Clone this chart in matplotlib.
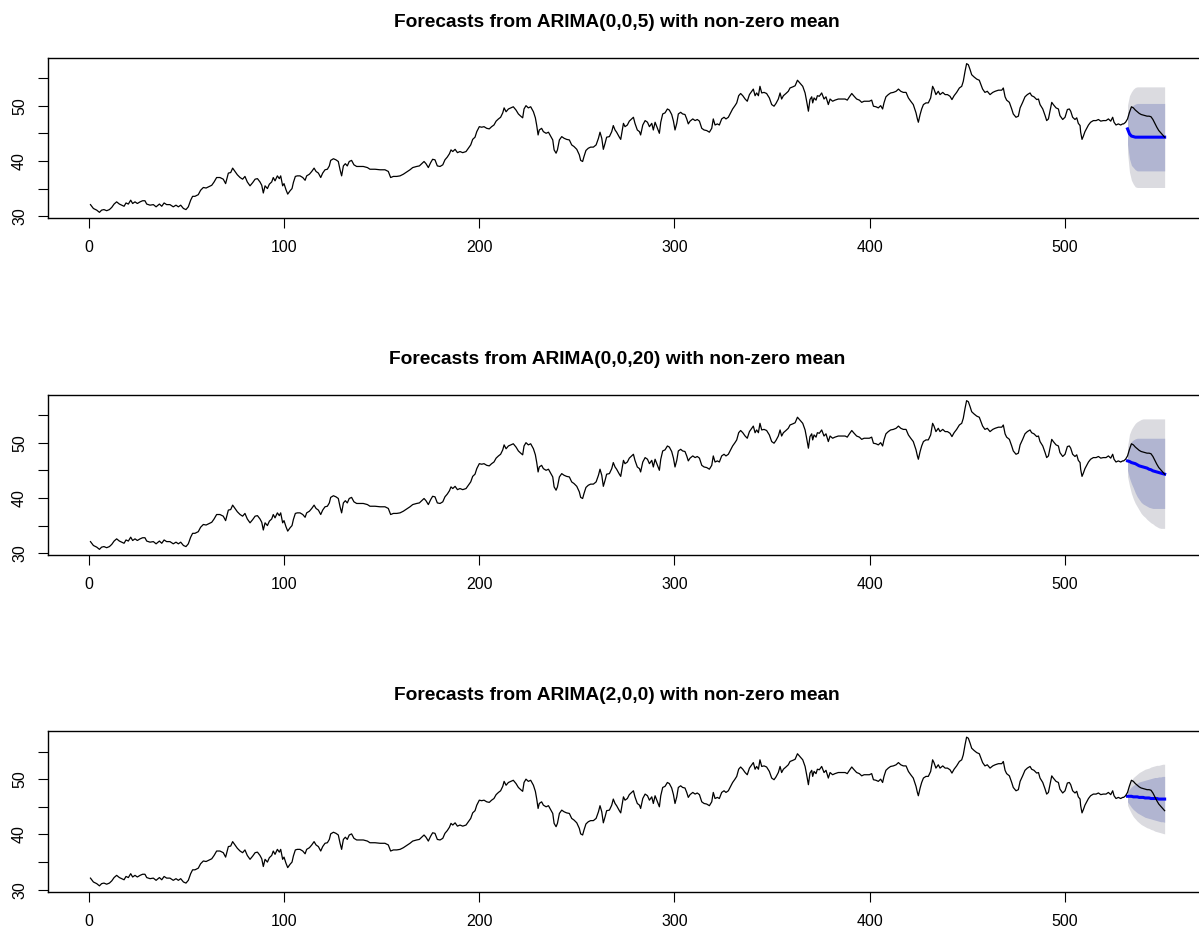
import numpy as np
import matplotlib
matplotlib.use("Agg")
import matplotlib.pyplot as plt

plt.rcParams['font.family'] = ['Liberation Sans', 'DejaVu Sans']

# observed prices as (day, value) pairs, split by stretch of the series
obs_1_88 = [
    (1.0, 32.1), (2.5, 31.4), (4.2, 31.1), (5.6, 30.7), (6.7, 31.1), (7.9, 31.2), (9.3, 31.0),
    (10.7, 31.2), (11.9, 31.6), (13.1, 32.2), (14.4, 32.6), (15.8, 32.2), (17.0, 32.0), (18.2, 31.8),
    (19.2, 32.4), (20.4, 32.2), (21.6, 32.9), (22.6, 32.3), (23.8, 32.6), (25.0, 32.3), (26.4, 32.6),
    (27.7, 32.8), (28.9, 32.8), (29.8, 32.2), (31.5, 32.0), (33.2, 32.1), (34.6, 31.7), (36.3, 32.2),
    (37.5, 31.8), (38.7, 32.4), (40.0, 32.1), (41.7, 32.1), (43.4, 31.7), (44.8, 32.0), (46.0, 31.7),
    (47.2, 32.0), (48.6, 31.4), (49.9, 31.2), (51.1, 31.7), (52.3, 32.9), (53.3, 33.6), (54.5, 33.6),
    (56.2, 33.9), (57.4, 34.7), (58.8, 35.2), (60.2, 35.1), (61.4, 35.3), (63.1, 35.6), (64.3, 36.2),
    (65.6, 37.0), (67.3, 37.0), (69.0, 36.7), (70.2, 35.9), (71.6, 37.8), (72.8, 37.9), (73.8, 38.7),
    (75.0, 38.1), (76.2, 37.5), (77.6, 37.0), (78.9, 36.7), (80.1, 37.2), (81.3, 36.2), (82.7, 35.5),
    (84.1, 36.1), (85.3, 36.7), (86.5, 36.8), (87.8, 36.2),
]
obs_88_180 = [
    (88.7, 35.6), (89.5, 34.2), (90.4, 35.5), (91.6, 35.0), (92.6, 35.8), (93.8, 36.2), (94.6, 37.0),
    (95.5, 36.4), (96.7, 37.3), (97.7, 36.8), (98.4, 37.3), (99.4, 35.5), (100.1, 35.9), (101.1, 34.8),
    (102.0, 34.0), (103.2, 34.6), (104.2, 35.0), (104.9, 36.1), (105.9, 37.2), (106.9, 37.3),
    (108.3, 37.3), (109.7, 37.0), (110.9, 36.5), (111.7, 37.3), (113.1, 37.6), (114.3, 38.1),
    (115.5, 38.7), (116.5, 38.1), (117.7, 37.8), (118.9, 37.0), (119.9, 37.8), (121.1, 38.4),
    (122.3, 38.5), (123.3, 39.1), (124.0, 40.1), (125.4, 40.4), (126.7, 40.2), (127.9, 39.9),
    (128.8, 38.4), (129.6, 37.3), (130.5, 39.1), (131.5, 39.5), (132.5, 39.1), (133.5, 39.9),
    (134.7, 40.1), (135.9, 39.3), (137.3, 39.0), (139.0, 39.0), (140.7, 39.0), (142.8, 38.8),
    (144.1, 38.5), (146.7, 38.5), (149.3, 38.4), (151.8, 38.4), (153.5, 38.1), (154.7, 37.0),
    (156.1, 37.2), (157.8, 37.2), (159.5, 37.3), (161.2, 37.6), (162.9, 38.0), (164.6, 38.4),
    (166.0, 38.8), (168.0, 39.0), (169.4, 39.1), (170.6, 39.5), (171.8, 39.9), (172.8, 39.5),
    (174.0, 38.8), (175.2, 39.7), (176.2, 40.3), (177.4, 40.2), (178.6, 39.1), (180.0, 39.0),
]
obs_181_273 = [
    (181.4, 39.3), (182.5, 40.2), (183.7, 40.7), (184.8, 41.3), (185.6, 42.0), (186.5, 41.7),
    (187.7, 42.1), (188.9, 41.5), (190.2, 41.7), (191.6, 41.5), (193.3, 41.7), (194.5, 42.3),
    (195.7, 42.9), (196.7, 43.9), (197.9, 44.3), (198.8, 45.3), (200.1, 46.2), (201.3, 46.1),
    (202.5, 46.2), (203.9, 45.9), (205.2, 45.8), (206.4, 46.2), (207.6, 46.5), (208.7, 47.2),
    (209.9, 47.6), (211.0, 47.9), (212.1, 48.7), (212.8, 49.6), (213.8, 48.9), (215.0, 49.4),
    (216.2, 49.6), (217.5, 49.8), (218.9, 49.2), (220.1, 48.5), (221.3, 48.1), (222.3, 47.8),
    (223.0, 49.4), (224.0, 50.0), (225.2, 49.6), (226.4, 49.8), (227.8, 48.9), (228.8, 47.8),
    (229.5, 46.4), (230.2, 44.7), (230.8, 45.6), (232.0, 45.9), (232.9, 45.3), (234.3, 45.0),
    (235.5, 45.2), (236.6, 44.5), (237.7, 43.8), (238.4, 42.0), (239.4, 41.4), (240.1, 42.0),
    (241.1, 43.8), (242.3, 44.4), (243.5, 44.1), (244.8, 43.9), (246.2, 43.8), (247.4, 42.9),
    (248.6, 42.6), (250.0, 42.1), (251.3, 41.1), (252.0, 40.1), (253.0, 39.9), (253.7, 40.8),
    (254.7, 41.9), (255.9, 42.3), (257.1, 42.5), (258.5, 42.5), (259.9, 42.9), (261.1, 44.1),
    (261.9, 45.2), (262.8, 44.1), (263.6, 42.1), (264.5, 43.2), (265.3, 44.3), (266.7, 44.4),
    (267.9, 45.3), (268.7, 46.4), (269.6, 45.6), (270.4, 45.2), (271.8, 44.3), (272.5, 43.9),
]
obs_274_364 = [
    (273.9, 46.8), (274.7, 46.2), (275.9, 46.5), (276.9, 47.2), (278.1, 47.6), (279.0, 47.9),
    (279.8, 46.8), (281.0, 45.6), (282.1, 45.3), (282.7, 44.7), (283.8, 46.5), (285.0, 47.3),
    (286.2, 47.0), (287.2, 46.2), (288.4, 46.8), (289.2, 45.6), (290.1, 47.0), (291.3, 45.9),
    (292.3, 45.0), (293.0, 47.0), (294.0, 48.5), (295.2, 48.7), (296.4, 49.4), (297.4, 49.2),
    (298.6, 48.4), (299.5, 47.2), (300.3, 45.6), (301.2, 46.8), (302.0, 48.5), (303.2, 48.8),
    (304.2, 48.5), (305.4, 48.4), (306.3, 47.6), (307.1, 46.7), (308.0, 47.2), (309.4, 47.6),
    (310.6, 47.3), (311.7, 47.5), (312.8, 47.2), (314.0, 45.9), (315.2, 45.6), (316.5, 45.5),
    (317.9, 45.2), (319.1, 45.9), (319.9, 47.6), (320.8, 46.5), (322.0, 46.7), (323.0, 46.5),
    (324.2, 47.6), (325.4, 47.9), (326.4, 47.6), (327.6, 47.9), (328.8, 48.7), (329.8, 49.4),
    (331.0, 50.0), (331.9, 50.5), (332.9, 51.8), (333.9, 52.2), (335.0, 51.8), (336.2, 51.2),
    (337.3, 50.8), (338.4, 52.0), (339.6, 52.6), (340.4, 53.0), (341.3, 51.8), (342.1, 52.3),
    (343.0, 51.8), (343.8, 53.5), (344.7, 52.3), (345.9, 52.4), (347.2, 52.2), (348.6, 51.4),
    (349.8, 50.2), (351.0, 49.9), (352.0, 50.4), (353.2, 51.2), (354.1, 52.3), (354.9, 51.2),
    (355.8, 51.8), (357.1, 52.2), (358.3, 52.6), (359.2, 53.2), (360.6, 53.4), (361.8, 53.6),
    (363.0, 54.6), (364.0, 54.2),
]
obs_365_456 = [
    (365.7, 53.5), (366.9, 52.3), (367.7, 50.8), (368.6, 49.0), (369.4, 51.1), (370.3, 51.6),
    (370.8, 50.5), (371.5, 51.4), (372.5, 51.0), (373.2, 51.8), (374.2, 51.7), (375.4, 52.3),
    (376.6, 51.2), (377.6, 51.6), (378.8, 50.2), (379.7, 51.2), (381.0, 50.8), (382.2, 51.0),
    (383.9, 51.2), (385.6, 51.2), (387.4, 51.2), (388.5, 51.0), (389.6, 51.6), (390.8, 52.2),
    (392.0, 51.7), (393.3, 51.2), (394.7, 51.0), (395.9, 50.6), (397.1, 50.8), (398.4, 50.8),
    (399.8, 50.8), (401.0, 51.0), (401.9, 49.9), (403.2, 49.8), (404.4, 49.6), (405.6, 50.0),
    (406.6, 49.4), (407.3, 50.5), (408.3, 51.6), (409.5, 52.0), (410.7, 52.3), (412.1, 52.4),
    (413.5, 52.6), (414.7, 53.0), (415.9, 52.6), (417.2, 52.4), (418.6, 52.4), (419.8, 51.4),
    (421.0, 50.8), (422.3, 50.2), (423.7, 48.7), (424.4, 47.6), (424.9, 47.0), (425.8, 48.4),
    (426.6, 49.4), (427.5, 50.2), (428.8, 50.5), (430.0, 50.5), (431.2, 51.4), (432.2, 53.5),
    (432.9, 53.0), (433.9, 52.0), (435.1, 52.6), (436.0, 52.0), (437.4, 52.4), (438.6, 52.0),
    (439.8, 52.0), (441.1, 51.7), (442.1, 51.1), (443.2, 51.8), (444.5, 52.4), (445.9, 53.2),
    (447.1, 53.5), (447.9, 54.4), (448.8, 56.2), (449.6, 57.6), (450.5, 57.4), (451.4, 56.5),
    (452.2, 55.6), (453.4, 55.2), (454.8, 54.8), (456.1, 54.6),
]
obs_457_531 = [
    (457.8, 53.0), (459.0, 52.4), (460.2, 52.6), (461.6, 52.0), (463.0, 52.4), (464.2, 52.6),
    (465.9, 52.8), (467.6, 52.8), (468.4, 53.2), (469.3, 51.6), (470.1, 51.0), (471.5, 50.6),
    (472.7, 49.4), (473.5, 48.5), (474.9, 47.9), (476.1, 48.1), (477.0, 49.6), (478.3, 50.6),
    (479.5, 51.6), (480.7, 52.0), (482.1, 52.3), (482.9, 51.8), (484.1, 51.6), (485.5, 51.1),
    (486.4, 51.2), (487.2, 50.2), (488.6, 49.4), (489.8, 48.2), (490.6, 47.3), (491.5, 47.6),
    (492.3, 49.0), (493.2, 50.6), (494.0, 50.2), (495.4, 49.6), (496.6, 49.4), (497.4, 48.2),
    (498.8, 47.5), (500.0, 47.9), (501.2, 49.3), (502.2, 49.4), (502.9, 49.0), (503.9, 47.9),
    (505.1, 47.5), (506.0, 47.8), (506.8, 46.8), (507.7, 46.4), (508.0, 45.2), (508.7, 43.9),
    (509.4, 44.5), (510.2, 45.3), (511.1, 45.9), (512.0, 46.5), (513.1, 47.0), (514.5, 47.3),
    (515.9, 47.3), (517.1, 47.5), (518.3, 47.2), (519.6, 47.3), (521.0, 47.3), (522.2, 47.6),
    (523.4, 47.2), (524.4, 47.9), (525.1, 47.0), (526.1, 46.5), (527.3, 46.7), (528.5, 46.5),
    (529.5, 46.7), (530.0, 46.7), (531.0, 47.0),
]

# hold-out days and the forecast horizon (20 steps)
fc_days = [532, 533, 534, 535, 536, 537, 538, 539, 540, 541,
           542, 543, 544, 545, 546, 547, 548, 549, 550, 551]
test_price = [47.6, 48.8, 49.8, 49.6, 49.2, 48.9, 48.6, 48.4, 48.3, 48.2,
              48.1, 48.1, 48.0, 47.5, 46.8, 46.1, 45.5, 45.1, 44.7, 44.3]

# ARIMA(0,0,5)
ma5_mean = [45.8, 44.9, 44.5, 44.4, 44.3, 44.3, 44.3, 44.3, 44.3, 44.3,
            44.3, 44.3, 44.3, 44.3, 44.3, 44.3, 44.3, 44.3, 44.3, 44.3]
ma5_lo80 = [43.0, 40.4, 39.2, 38.8, 38.4, 38.2, 38.2, 38.2, 38.2, 38.2,
            38.2, 38.2, 38.2, 38.2, 38.2, 38.2, 38.2, 38.2, 38.2, 38.2]
ma5_hi80 = [48.6, 49.4, 49.8, 50.1, 50.3, 50.4, 50.4, 50.4, 50.4, 50.4,
            50.4, 50.4, 50.4, 50.4, 50.4, 50.4, 50.4, 50.4, 50.4, 50.4]
ma5_lo95 = [41.5, 38.0, 36.5, 35.8, 35.3, 35.2, 35.2, 35.2, 35.2, 35.2,
            35.2, 35.2, 35.2, 35.2, 35.2, 35.2, 35.2, 35.2, 35.2, 35.2]
ma5_hi95 = [50.1, 51.8, 52.5, 53.0, 53.3, 53.4, 53.4, 53.4, 53.4, 53.4,
            53.4, 53.4, 53.4, 53.4, 53.4, 53.4, 53.4, 53.4, 53.4, 53.4]

# ARIMA(0,0,20)
ma20_mean = [46.7, 46.6, 46.4, 46.3, 46.2, 46.0, 45.8, 45.7, 45.6, 45.5,
             45.4, 45.2, 45.1, 44.9, 44.8, 44.7, 44.6, 44.5, 44.4, 44.3]
ma20_lo80 = [45.0, 43.6, 42.6, 41.8, 40.9, 40.2, 39.7, 39.2, 38.9, 38.7,
             38.5, 38.3, 38.2, 38.1, 38.1, 38.1, 38.1, 38.1, 38.1, 38.1]
ma20_hi80 = [48.4, 49.6, 50.2, 50.5, 50.7, 50.8, 50.8, 50.8, 50.8, 50.8,
             50.8, 50.8, 50.8, 50.8, 50.8, 50.8, 50.8, 50.8, 50.8, 50.8]
ma20_lo95 = [43.9, 42.2, 40.8, 39.8, 39.0, 38.4, 37.8, 37.2, 36.8, 36.5,
             36.1, 35.8, 35.5, 35.3, 35.0, 34.8, 34.6, 34.5, 34.5, 34.5]
ma20_hi95 = [49.3, 51.5, 52.4, 53.0, 53.5, 53.8, 54.0, 54.2, 54.3, 54.3,
             54.3, 54.3, 54.3, 54.3, 54.3, 54.3, 54.3, 54.3, 54.3, 54.3]

# ARIMA(2,0,0)
ar2_mean = [46.9, 46.9, 46.9, 46.8, 46.8, 46.8, 46.7, 46.7, 46.7, 46.6,
            46.6, 46.6, 46.5, 46.5, 46.5, 46.5, 46.4, 46.4, 46.4, 46.4]
ar2_lo80 = [45.9, 45.4, 44.9, 44.5, 44.2, 43.9, 43.7, 43.5, 43.3, 43.1,
            43.0, 42.9, 42.8, 42.7, 42.6, 42.5, 42.4, 42.3, 42.3, 42.2]
ar2_hi80 = [47.7, 48.2, 48.6, 48.9, 49.1, 49.3, 49.5, 49.6, 49.7, 49.8,
            49.9, 50.0, 50.1, 50.2, 50.3, 50.3, 50.4, 50.4, 50.5, 50.5]
ar2_lo95 = [45.3, 44.5, 43.8, 43.2, 42.8, 42.4, 42.1, 41.8, 41.6, 41.4,
            41.2, 41.1, 40.9, 40.8, 40.6, 40.5, 40.4, 40.3, 40.2, 40.1]
ar2_hi95 = [48.3, 49.1, 49.8, 50.3, 50.6, 50.9, 51.2, 51.4, 51.6, 51.8,
            51.9, 52.0, 52.2, 52.3, 52.4, 52.5, 52.5, 52.6, 52.7, 52.7]

titles = ["Forecasts from ARIMA(0,0,5) with non-zero mean",
          "Forecasts from ARIMA(0,0,20) with non-zero mean",
          "Forecasts from ARIMA(2,0,0) with non-zero mean"]

DARK = "#b1b5d1"
LIGHT = "#dbdbe0"


def main():
    train = obs_1_88 + obs_88_180 + obs_181_273 + obs_274_364 + obs_365_456 + obs_457_531
    tr_day = np.array([d for d, _ in train])
    tr_val = np.array([v for _, v in train])
    all_day = np.concatenate([tr_day, fc_days])
    all_val = np.concatenate([tr_val, test_price])

    models = [
        (ma5_mean, ma5_lo80, ma5_hi80, ma5_lo95, ma5_hi95),
        (ma20_mean, ma20_lo80, ma20_hi80, ma20_lo95, ma20_hi95),
        (ar2_mean, ar2_lo80, ar2_hi80, ar2_lo95, ar2_hi95),
    ]

    W, H = 1199, 927
    fig = plt.figure(figsize=(W / 100, H / 100), dpi=100)

    x_lo, x_hi = 1, fc_days[-1]
    xpad = 0.04 * (x_hi - x_lo)

    tops = [57.7, 394.7, 731.2]
    title_y = [22.5, 359.5, 695.5]
    ax_h = 160.6
    left_px, right_px = 47.5, 1207.6

    for i, (mean, lo80, hi80, lo95, hi95) in enumerate(models):
        ax = fig.add_axes([left_px / W, 1 - (tops[i] + ax_h) / H,
                           (right_px - left_px) / W, ax_h / H])
        ax.fill_between(fc_days, lo95, hi95, color=LIGHT, lw=0, zorder=1)
        ax.fill_between(fc_days, lo80, hi80, color=DARK, lw=0, zorder=2)
        ax.plot(fc_days, mean, color="blue", lw=2.2, zorder=3)
        ax.plot(all_day, all_val, color="black", lw=0.9, zorder=4)

        y_lo = min(tr_val.min(), min(lo95))
        y_hi = max(tr_val.max(), max(hi95))
        ypad = 0.04 * (y_hi - y_lo)
        ax.set_xlim(x_lo - xpad, x_hi + xpad)
        ax.set_ylim(y_lo - ypad, y_hi + ypad)

        ax.set_xticks([0, 100, 200, 300, 400, 500])
        ax.set_yticks([30, 35, 40, 45, 50, 55])
        ax.set_yticklabels(["30", "", "40", "", "50", ""])
        ax.tick_params(direction="out", length=7.2, width=0.8, labelsize=11.5,
                       colors="black")
        ax.tick_params(axis="x", pad=8.5)
        ax.tick_params(axis="y", pad=7.5)
        plt.setp(ax.get_yticklabels(), rotation=90, va="center", ha="right")
        for s in ax.spines.values():
            s.set_linewidth(1.0)

        fig.text(616.7 / W, 1 - title_y[i] / H, titles[i], ha="center", va="center",
                 fontsize=13.8, fontweight="bold")

    fig.savefig("out.png", dpi=100)


if __name__ == "__main__":
    main()
